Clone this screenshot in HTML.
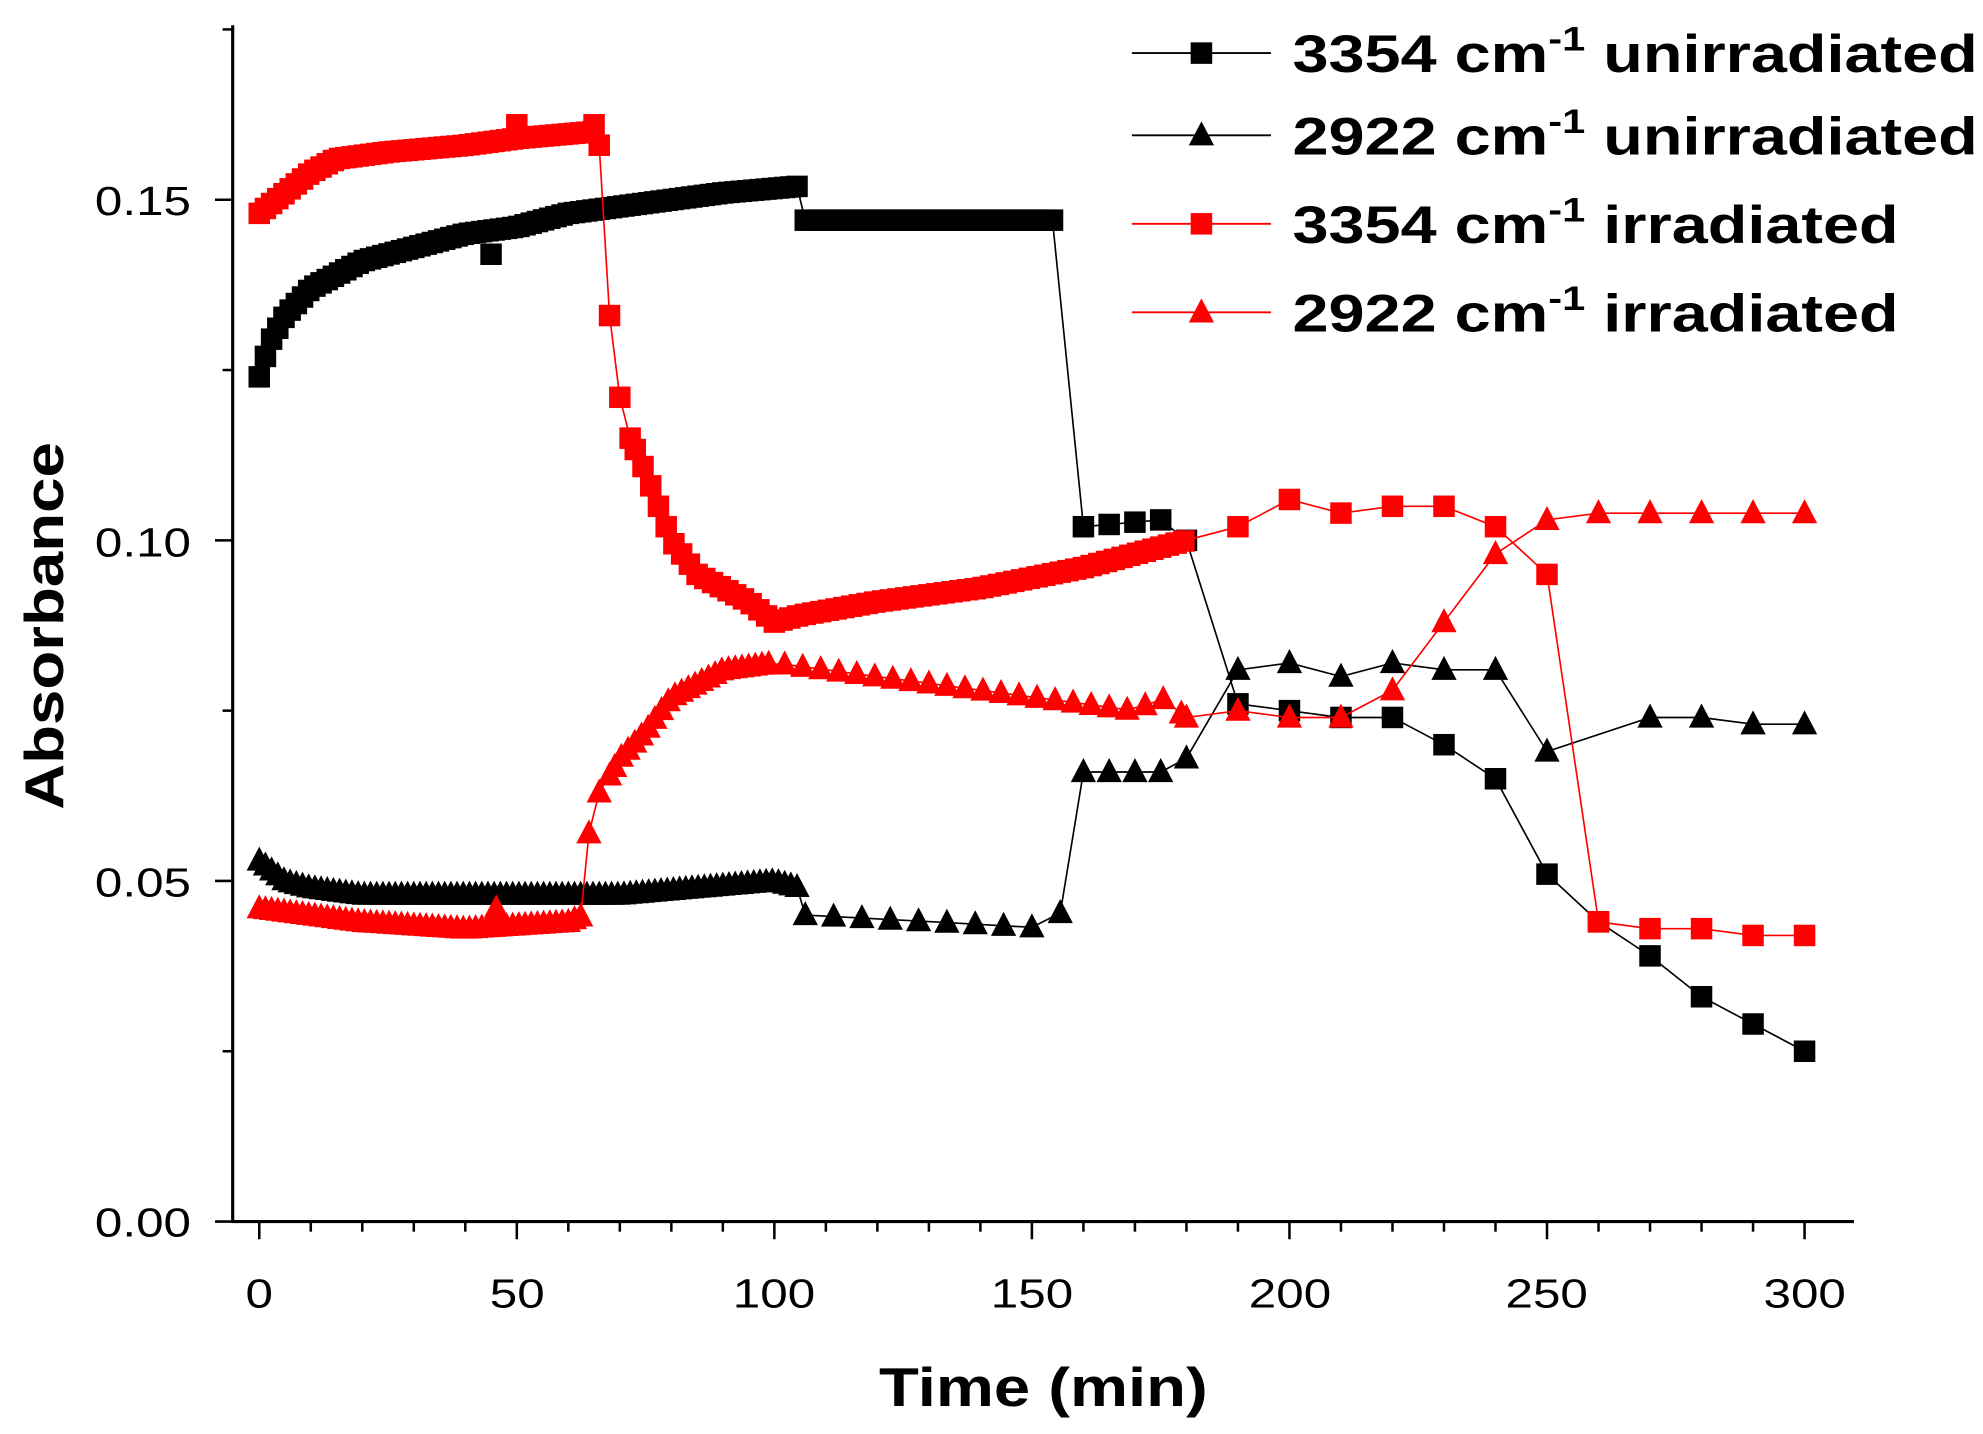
<!DOCTYPE html>
<html><head><meta charset="utf-8"><style>
html,body{margin:0;padding:0;background:#fff;}
svg{display:block;}
text{font-family:"Liberation Sans",Arial,sans-serif;}
</style></head><body>
<svg id="s" width="1983" height="1434" viewBox="0 0 1568 1134" preserveAspectRatio="none" xmlns="http://www.w3.org/2000/svg">
<g stroke="#000" stroke-width="2.5" fill="none">
<line x1="184" y1="20" x2="184" y2="967"/>
<line x1="183" y1="966" x2="1466" y2="966"/>
</g>
<g id="ticks" stroke="#000" stroke-width="2"></g>
<g font-size="32" fill="#000" text-anchor="end">
<text transform="translate(151,978) scale(1.22,1)">0.00</text>
<text transform="translate(151,709) scale(1.22,1)">0.05</text>
<text transform="translate(151,440) scale(1.22,1)">0.10</text>
<text transform="translate(151,170) scale(1.22,1)">0.15</text>
</g>
<g font-size="32" fill="#000" text-anchor="middle">
<text transform="translate(205,1034) scale(1.22,1)">0</text>
<text transform="translate(409,1034) scale(1.22,1)">50</text>
<text transform="translate(612,1034) scale(1.22,1)">100</text>
<text transform="translate(816,1034) scale(1.22,1)">150</text>
<text transform="translate(1020,1034) scale(1.22,1)">200</text>
<text transform="translate(1223,1034) scale(1.22,1)">250</text>
<text transform="translate(1427,1034) scale(1.22,1)">300</text>
</g>
<text transform="translate(825,1112) scale(1.2,1)" font-size="43" font-weight="bold" text-anchor="middle">Time (min)</text>
<text transform="translate(50,495) rotate(-90) scale(1.17,1)" font-size="43" font-weight="bold" text-anchor="middle">Absorbance</text>
<g id="data"></g>
<g id="leg"></g>
</svg>
<script>
var NS="http://www.w3.org/2000/svg";
function el(p,t,a){var e=document.createElementNS(NS,t);for(var k in a)e.setAttribute(k,a[k]);p.appendChild(e);return e;}
var X=function(t){return 205+t*4.073;},Y=function(v){return 966-v*5387;};
var tk=document.getElementById('ticks');
for(var t=0;t<=310;t+=10){var x=X(t);if(x>1466)break;el(tk,'line',{x1:x,y1:966,x2:x,y2:t%50==0?980:974});}
for(var v=0;v<=0.176;v+=0.025){var y=Y(v);el(tk,'line',{x1:184,y1:y,x2:Math.round(v*1000)%50==0?170:176,y2:y});}
function interp(k,t){for(var i=0;i<k.length-1;i++){if(t<=k[i+1][0]){var a=k[i],b=k[i+1];return a[1]+(b[1]-a[1])*(t-a[0])/(b[0]-a[0]);}}return k[k.length-1][1];}
function range(a,b,s){var r=[];for(var t=a;t<=b+1e-6;t+=s)r.push(+t.toFixed(2));return r;}
var bs=[[0,.124],[2,.129],[5,.133],[10,.137],[15,.139],[20,.141],[30,.143],[40,.145],[50,.146],[60,.148],[70,.149],[80,.150],[90,.151],[105,.152],[106,.147],[155,.147],[160,.102],[175,.103],[180,.100],[190,.076],[200,.075],[210,.074],[220,.074],[230,.070],[240,.065],[250,.051],[260,.044],[270,.039],[280,.033],[290,.029],[300,.025]];
var bsT=range(0,105,1.2).concat(range(106,155,1.5)).concat([160,165,170,175,180,190,200,210,220,230,240,250,260,270,280,290,300]);
var bt=[[0,.053],[5,.050],[10,.049],[20,.048],[60,.048],[70,.048],[100,.050],[105,.049],[106,.045],[155,.043],[160,.066],[175,.066],[180,.068],[190,.081],[200,.082],[210,.080],[220,.082],[230,.081],[240,.081],[250,.069],[270,.074],[280,.074],[290,.073],[300,.073]];
var btT=range(0,105,1.2).concat(range(106,156,5.5)).concat([160,165,170,175,180,190,200,210,220,230,240,250,270,280,290,300]);
var rs=[[0,.148],[5,.151],[10,.154],[15,.156],[25,.157],[40,.158],[50,.159],[65,.160],[66,.158],[68,.133],[70,.121],[72,.115],[75,.110],[80,.100],[85,.095],[90,.093],[95,.091],[100,.088],[105,.089],[120,.091],[140,.093],[160,.096],[180,.100],[190,.102],[200,.106],[210,.104],[220,.105],[230,.105],[240,.102],[250,.095],[260,.044],[270,.043],[280,.043],[290,.042],[300,.042]];
var rsT=range(0,66,1.2).concat([68,70,72]).concat(range(73,180,1.5)).concat([190,200,210,220,230,240,250,260,270,280,290,300]);
var rt=[[0,.046],[10,.045],[20,.044],[40,.043],[60,.044],[63,.045],[64,.057],[66,.063],[70,.068],[75,.072],[80,.077],[85,.079],[90,.081],[100,.082],[110,.081],[120,.080],[130,.079],[140,.078],[160,.076],[170,.075],[175,.077],[180,.074],[190,.075],[200,.074],[210,.074],[220,.078],[230,.088],[240,.098],[250,.103],[260,.104],[300,.104]];
var rtT=range(0,63,1.2).concat([64,66,68]).concat(range(69,100,1.3)).concat(range(102,180,3.5)).concat([180,190,200,210,220,230,240,250,260,270,280,290,300]);
var extra={bs:[[45,.142]],rt:[[46,.046]],rs:[[50,.161],[65,.161]]};
var d=document.getElementById('data');
function series(k,T,col,sq,ex){var pts=T.map(function(t){return [X(t),Y(interp(k,t))];});
el(d,'polyline',{points:pts.map(function(p){return p[0].toFixed(1)+','+p[1].toFixed(1)}).join(' '),fill:'none',stroke:col,'stroke-width':1.3});
(ex||[]).forEach(function(e){pts.push([X(e[0]),Y(e[1])]);});
pts.forEach(function(p){mark(d,p[0],p[1],col,sq);});}
function mark(g,x,y,col,sq){if(sq)el(g,'rect',{x:x-8.5,y:y-8.5,width:17,height:17,fill:col});
else el(g,'polygon',{points:(x-10)+','+(y+8)+' '+(x+10)+','+(y+8)+' '+x+','+(y-11),fill:col});}
series(bt,btT,'#000',false);
series(bs,bsT,'#000',true,extra.bs);
series(rt,rtT,'#f00',false,extra.rt);
series(rs,rsT,'#f00',true,extra.rs);
var lg=document.getElementById('leg');
var L=[[42,'#000',true,'3354','unirradiated'],[107,'#000',false,'2922','unirradiated'],[177,'#f00',true,'3354','irradiated'],[247,'#f00',false,'2922','irradiated']];
L.forEach(function(r){el(lg,'line',{x1:895,y1:r[0],x2:1005,y2:r[0],stroke:r[1],'stroke-width':1.5});mark(lg,950,r[0],r[1],r[2]);
var t=el(lg,'text',{transform:'translate(1022,'+(r[0]+15)+') scale(1.22,1)','font-size':42,'font-weight':'bold'});
t.appendChild(document.createTextNode(r[3]+' cm'));var s=el(t,'tspan',{dy:-17,'font-size':27});s.textContent='-1';
var s2=el(t,'tspan',{dy:17});s2.textContent=' '+r[4];});
</script>
</body></html>
